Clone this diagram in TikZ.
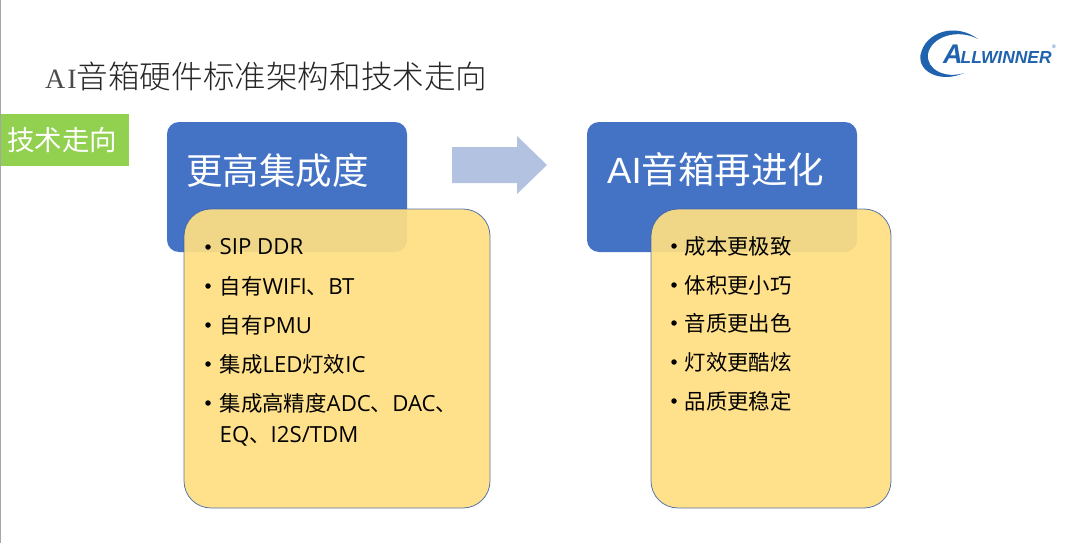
\documentclass[tikz,border=0pt]{standalone}
\usepackage{fontspec}
\setmainfont{Open Sans}
\newfontfamily\cjk{Noto Sans CJK SC}
\newfontfamily\cjkl[UprightFont={* Light}]{Noto Sans CJK SC}
\newfontfamily\serifl{Liberation Serif}
\newfontfamily\logofont{Liberation Sans}
\definecolor{blueb}{HTML}{4472C4}
\definecolor{yel}{HTML}{FFDF82}
\definecolor{grn}{HTML}{92D050}
\definecolor{arr}{HTML}{B4C2E2}
\definecolor{logob}{HTML}{1F63AE}
\tikzset{
  headbox/.style={fill=blueb,rounded corners=12pt},
  notebox/.style={draw=blueb!85!black,line width=0.8pt,fill=yel,fill opacity=0.92,draw opacity=.85,rounded corners=27pt},
  headtext/.style={text=white,font=\cjk\fontsize{36.5}{40}\selectfont,anchor=west,inner sep=0},
  item/.style={text=black,font=\fontsize{22.2}{25}\selectfont,anchor=west,inner sep=0},
  bul/.style={fill=black,circle,inner sep=0,minimum size=5.5pt},
}
\newcommand{\C}[1]{{\cjk\fontsize{21.4}{25}\selectfont #1}}
\begin{document}
\begin{tikzpicture}[x=1pt,y=-1pt]
\useasboundingbox (0,0) rectangle (1080,543);
\fill[white] (0,0) rectangle (1080,543);
\fill[black!35] (0,0) rectangle (1.2,543);
% title
\node[anchor=west,inner sep=0,text=black!70] (title) at (45,76) {\serifl\fontsize{28}{35}\selectfont A\hspace{2pt}I\hspace{0pt}\cjkl\fontsize{31.6}{35}\selectfont\textcolor{black!85}{音箱硬件标准架构和技术走向}};
% tag
\node[fill=grn,text=white,minimum width=128pt,minimum height=51pt,inner sep=0,font=\cjk\fontsize{27.5}{30}\selectfont] (tag) at (64.5,140) {\hspace{-4pt}技术走向};
% head boxes
\fill[headbox] (167,122) rectangle (407,252);
\fill[headbox] (587,122) rectangle (857,252);
\node[headtext] (h1) at (186,171) {更高集成度};
\node[headtext] (h2) at (607,170) {\logofont AI\cjk 音箱再进化};
% arrow
\fill[arr] (452,147) -- (517,147) -- (517,136) -- (547,165) -- (517,194) -- (517,183) -- (452,183) -- cycle;
% note boxes
\draw[notebox] (184,209) rectangle (490,508);
\draw[notebox] (651,209) rectangle (891,508);
% left items
\foreach \y/\t in {247/{SIP DDR},286/{\C{自有}WIFI\C{、}BT},325/{\C{自有}PMU},364/{\C{集成}LED\C{灯效}IC},403/{\C{集成高精度}ADC\C{、}DAC\C{、}}}{
  \node[bul] at (208,\y) {};
  \node[item] at (219.5,\y) {\t};
}
\node[item] (l6) at (219.5,436.5) {EQ\C{、}I2S/TDM};
% right items
\foreach \y/\t in {246/成本更极致,285/体积更小巧,323/音质更出色,362/灯效更酷炫,401/品质更稳定}{
  \node[bul] at (674,\y) {};
  \node[item,font=\cjk\fontsize{21.4}{25}\selectfont] at (684.5,\y) {\t};
}
% logo
\fill[logob] (978,39) .. controls (955,22) and (925,32) .. (920.5,55) .. controls (918,73) and (942,83) .. (964,73)
  .. controls (946,79) and (926,70) .. (928,54) .. controls (931,37) and (957,28) .. (978,39) -- cycle;
\node[anchor=west,inner sep=0,text=logob,font=\logofont\bfseries\itshape] (logo) at (943,54) {\fontsize{27}{27}\selectfont A\hspace{-2pt}\fontsize{17.4}{17}\selectfont LLWINNER};
\node[anchor=west,inner sep=0,text=logob,font=\logofont] at (1052,47) {\fontsize{5}{5}\selectfont ®};
\end{tikzpicture}
\end{document}
